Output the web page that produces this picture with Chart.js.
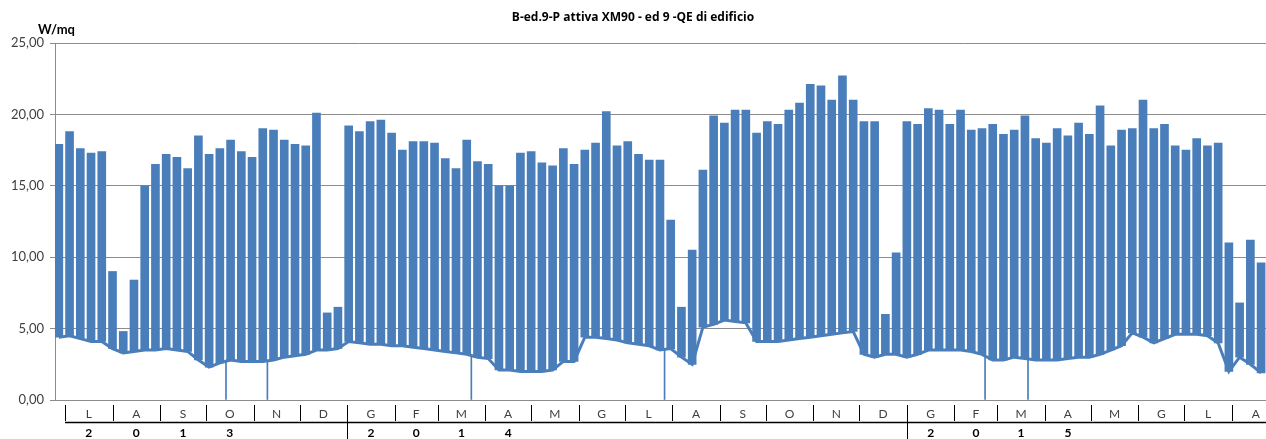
<!DOCTYPE html>
<html>
<head>
<meta charset="utf-8">
<script src="https://cdn.jsdelivr.net/npm/chart.js@4.4.0/dist/chart.umd.min.js"></script>
<style>
  html, body { margin: 0; padding: 0; background: #fff; }
  #wrap { width: 1266px; height: 439px; }
</style>
</head>
<body>
<div id="wrap"><canvas id="myChart" width="1266" height="439"></canvas></div>
<script>
// one value per week, week 0 = Mon 24/06/2013 ; x in days from 01/07/2013
var weekPeak = [
  17.9, 18.8, 17.6, 17.3, 17.4, 9.0, 4.8, 8.4, 15.0, 16.5,
  17.2, 17.0, 16.2, 18.5, 17.2, 17.6, 18.2, 17.4, 17.0, 19.0,
  18.9, 18.2, 17.9, 17.8, 20.1, 6.1, 6.5, 19.2, 18.8, 19.5,
  19.6, 18.7, 17.5, 18.1, 18.1, 18.0, 16.9, 16.2, 18.2, 16.7,
  16.5, 15.0, 15.0, 17.3, 17.4, 16.6, 16.4, 17.6, 16.5, 17.5,
  18.0, 20.2, 17.8, 18.1, 17.2, 16.8, 16.8, 12.6, 6.5, 10.5,
  16.1, 19.9, 19.4, 20.3, 20.3, 18.7, 19.5, 19.3, 20.3, 20.8,
  22.1, 22.0, 21.0, 22.7, 21.0, 19.5, 19.5, 6.0, 10.3, 19.5,
  19.3, 20.4, 20.3, 19.3, 20.3, 18.9, 19.0, 19.3, 18.6, 18.9,
  19.9, 18.3, 18.0, 19.0, 18.5, 19.4, 18.6, 20.6, 17.8, 18.9,
  19.0, 21.0, 19.0, 19.3, 17.8, 17.5, 18.3, 17.8, 18.0, 11.0,
  6.8, 11.2, 9.6
];
var weekBase = [
  4.4, 4.5, 4.3, 4.1, 4.1, 3.6, 3.3, 3.4, 3.5, 3.5,
  3.6, 3.5, 3.4, 2.8, 2.3, 2.6, 2.8, 2.7, 2.7, 2.7,
  2.8, 3.0, 3.1, 3.2, 3.5, 3.5, 3.6, 4.1, 4.0, 3.9,
  3.9, 3.8, 3.8, 3.7, 3.6, 3.5, 3.4, 3.3, 3.2, 3.0,
  2.9, 2.1, 2.1, 2.0, 2.0, 2.0, 2.1, 2.7, 2.7, 4.4,
  4.4, 4.3, 4.2, 4.0, 3.9, 3.8, 3.5, 3.6, 3.0, 2.5,
  5.1, 5.3, 5.6, 5.5, 5.4, 4.1, 4.1, 4.1, 4.2, 4.3,
  4.4, 4.5, 4.6, 4.7, 4.8, 3.2, 3.0, 3.2, 3.2, 3.0,
  3.2, 3.5, 3.5, 3.5, 3.5, 3.4, 3.2, 2.8, 2.8, 3.0,
  2.9, 2.8, 2.8, 2.8, 2.9, 3.0, 3.0, 3.2, 3.5, 3.8,
  4.7, 4.4, 4.0, 4.3, 4.6, 4.6, 4.6, 4.5, 4.0, 2.0,
  3.0, 2.5, 1.9
];
// single readings dropping to zero
var dipDays = [105, 132, 265, 391, 600, 628];
var dipTops = [2.8, 2.7, 3.0, 3.6, 3.2, 2.9];

var monthLetters = ['G', 'F', 'M', 'A', 'M', 'G', 'L', 'A', 'S', 'O', 'N', 'D'];
var yearLabels = ['2013', '2014', '2015'];
var chartTitle = 'B-ed.9-P attiva XM90 - ed 9 -QE di edificio';
var unitLabel = 'W/mq';

var blue = '#4a7ebb';
var peakBars = weekPeak.map(function (p, k) { return { x: 7 * k - 4, y: [weekBase[k], p] }; });
var baseLine = weekBase.map(function (b, k) { return { x: 7 * k - 4, y: b }; });
var dipBars = dipDays.map(function (d, i) { return { x: d, y: [0, dipTops[i]] }; });

var dayZero = Date.UTC(2013, 6, 1);
function dayOf(y, m) { return (Date.UTC(y, m, 1) - dayZero) / 86400000; }

var monthTable = {
  id: 'monthTable',
  afterDraw: function (chart) {
    var ctx = chart.ctx, xs = chart.scales.x;
    var top = xs.top, W = chart.width;
    ctx.save();
    // unit label over the y axis
    ctx.fillStyle = '#000';
    ctx.font = 'bold 13px Lato';
    ctx.textAlign = 'left';
    ctx.textBaseline = 'middle';
    ctx.fillText(unitLabel, 38, 30);

    var x0 = Math.round(xs.getPixelForValue(0));
    ctx.strokeStyle = '#000';
    ctx.lineWidth = 1.5;
    ctx.beginPath();
    ctx.moveTo(x0, top + 22.5);
    ctx.lineTo(W, top + 22.5);
    ctx.stroke();

    ctx.lineWidth = 1;
    ctx.textAlign = 'center';
    var y = 2013, m = 6;
    while (true) {
      var a = xs.getPixelForValue(dayOf(y, m));
      if (a > W) break;
      var ny = m === 11 ? y + 1 : y, nm = (m + 1) % 12;
      var b = xs.getPixelForValue(dayOf(ny, nm));
      var px = Math.round(a) + 0.5;
      ctx.beginPath();
      ctx.moveTo(px, top + 5);
      ctx.lineTo(px, m === 0 ? chart.height : top + 21);
      ctx.stroke();
      ctx.fillStyle = '#404040';
      ctx.font = '12px Lato';
      ctx.fillText(monthLetters[m], (a + b) / 2, top + 14);
      var idx = m - (y === 2013 ? 6 : 0);
      if (idx < 4) {
        ctx.fillStyle = '#000';
        ctx.font = 'bold 12px Lato';
        ctx.fillText(yearLabels[y - 2013].charAt(idx), (a + b) / 2, top + 33);
      }
      y = ny; m = nm;
    }
    ctx.restore();
  }
};

var ctx = document.getElementById('myChart').getContext('2d');
var myChart = new Chart(ctx, {
  type: 'bar',
  data: {
    datasets: [{
      type: 'bar',
      data: peakBars,
      backgroundColor: blue,
      borderWidth: 0,
      barThickness: 8,
      grouped: false,
      order: 1
    }, {
      type: 'bar',
      data: dipBars,
      backgroundColor: blue,
      borderWidth: 0,
      barThickness: 1,
      grouped: false,
      order: 2
    }, {
      type: 'line',
      data: baseLine,
      borderColor: blue,
      borderWidth: 3,
      pointRadius: 0,
      tension: 0,
      fill: false,
      order: 3
    }]
  },
  options: {
    responsive: false,
    animation: false,
    layout: { padding: 0 },
    plugins: {
      legend: { display: false },
      tooltip: { enabled: false },
      title: {
        display: true,
        text: chartTitle,
        color: '#000',
        font: { family: 'Open Sans', size: 12, weight: 'bold' },
        padding: { top: 10, bottom: 18.6 }
      }
    },
    scales: {
      x: {
        type: 'linear',
        offset: false,
        min: -6.5,
        max: 783.2,
        ticks: { display: false },
        grid: { display: false, offset: false },
        border: { color: '#8c8c8c' },
        afterFit: function (s) { s.height = 39; }
      },
      y: {
        min: 0,
        max: 25,
        ticks: {
          stepSize: 5,
          color: '#404040',
          padding: 6,
          font: { family: 'Lato', size: 13 },
          callback: function (v) { return v.toFixed(2).replace('.', ','); }
        },
        grid: { color: '#8c8c8c', tickLength: 5 },
        border: { color: '#8c8c8c' },
        afterFit: function (s) { s.width = 55; }
      }
    }
  },
  plugins: [monthTable]
});
</script>
</body>
</html>
